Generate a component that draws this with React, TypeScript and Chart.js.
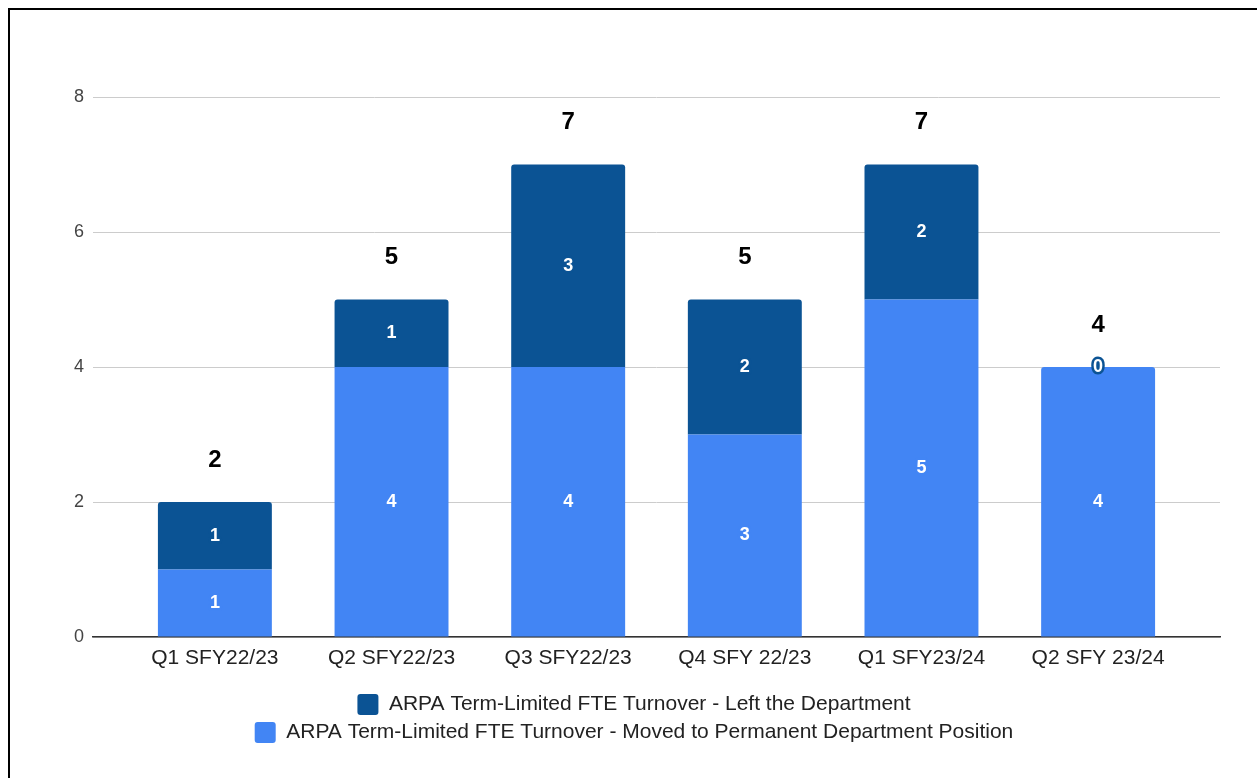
import React, { useEffect, useRef } from "react";
import { Chart, registerables } from "chart.js";

Chart.register(...registerables);

const categories = [
  "Q1 SFY22/23",
  "Q2 SFY22/23",
  "Q3 SFY22/23",
  "Q4 SFY 22/23",
  "Q1 SFY23/24",
  "Q2 SFY 23/24",
];
const movedToPermanent = [1, 4, 4, 3, 5, 4];
const leftDepartment = [1, 1, 3, 2, 2, 0];
const yTicks = [0, 2, 4, 6, 8];
const seriesMoved = "ARPA Term-Limited FTE Turnover - Moved to Permanent Department Position";
const seriesLeft = "ARPA Term-Limited FTE Turnover - Left the Department";

const FONT = "'Liberation Sans', Arial, Helvetica, sans-serif";
const LIGHT = "#4285f4";
const DARK = "#0b5394";

const labelPlugin = {
  id: "stackLabels",
  afterDatasetsDraw(chart: any) {
    const ctx = chart.ctx as CanvasRenderingContext2D;
    ctx.save();
    ctx.textAlign = "center";
    ctx.textBaseline = "middle";
    ctx.lineJoin = "round";
    ctx.font = `bold 18px ${FONT}`;
    const seriesValues = [movedToPermanent, leftDepartment];
    chart.data.datasets.forEach((ds: any, di: number) => {
      const meta = chart.getDatasetMeta(di);
      meta.data.forEach((el: any, i: number) => {
        const v = seriesValues[di][i];
        const p = el.getProps(["x", "y", "base"], true);
        const cy = (p.y + p.base) / 2;
        ctx.lineWidth = 5;
        ctx.strokeStyle = ds.backgroundColor;
        ctx.strokeText(String(v), p.x, cy);
        ctx.fillStyle = "#ffffff";
        ctx.fillText(String(v), p.x, cy);
      });
    });
    ctx.font = `bold 24px ${FONT}`;
    ctx.fillStyle = "#000000";
    const meta0 = chart.getDatasetMeta(0);
    categories.forEach((_, i) => {
      const total = movedToPermanent[i] + leftDepartment[i];
      const x = meta0.data[i].x;
      const y = chart.scales.y.getPixelForValue(total) - 42;
      ctx.fillText(String(total), x, y);
    });
    ctx.restore();
  },
};

export default function App() {
  const ref = useRef<HTMLCanvasElement>(null);

  useEffect(() => {
    if (!ref.current) return;
    const chart = new Chart(ref.current, {
      type: "bar",
      data: {
        datasets: [
          {
            label: seriesMoved,
            data: movedToPermanent.map((v, i) => ({ x: i, y: v })),
            backgroundColor: LIGHT,
            borderWidth: 0,
            borderRadius: (c: any) =>
              leftDepartment[c.dataIndex] === 0 ? { topLeft: 3, topRight: 3, bottomLeft: 0, bottomRight: 0 } : 0,
            borderSkipped: "start",
            categoryPercentage: 1,
            barPercentage: 0.645,
          },
          {
            label: seriesLeft,
            data: leftDepartment.map((v, i) => ({ x: i, y: v })),
            backgroundColor: DARK,
            borderWidth: 0,
            borderRadius: { topLeft: 3, topRight: 3, bottomLeft: 0, bottomRight: 0 },
            borderSkipped: "start",
            categoryPercentage: 1,
            barPercentage: 0.645,
          },
        ],
      },
      options: {
        responsive: false,
        animation: false,
        layout: { padding: { left: 38, right: 37, top: 87, bottom: 25 } },
        scales: {
          x: {
            type: "linear",
            stacked: true,
            offset: false,
            min: -0.69,
            max: 5.69,
            bounds: "data",
            afterBuildTicks: (s: any) => {
              s.ticks = categories.map((_, i) => ({ value: i }));
            },
            afterFit: (s: any) => {
              s.height = 50;
            },
            grid: { display: false, drawTicks: false, offset: false },
            border: { display: true, color: "#333333", width: 1.5 },
            ticks: {
              autoSkip: false,
              maxRotation: 0,
              minRotation: 0,
              padding: 9,
              color: "#222222",
              font: { family: FONT, size: 21 },
              callback: (v: any) => categories[Math.round(Number(v))] ?? "",
            },
          },
          y: {
            stacked: true,
            min: 0,
            max: 8,
            afterBuildTicks: (s: any) => {
              s.ticks = yTicks.map((v) => ({ value: v }));
            },
            afterFit: (s: any) => {
              s.width = 45;
            },
            grid: { color: "#cccccc", lineWidth: 1, drawTicks: false },
            border: { display: false },
            ticks: {
              padding: 9,
              color: "#444444",
              font: { family: FONT, size: 18 },
            },
          },
        },
        plugins: {
          legend: {
            position: "bottom",
            reverse: true,
            labels: {
              boxWidth: 21,
              boxHeight: 21,
              padding: 7,
              useBorderRadius: true,
              borderRadius: 3,
              color: "#222222",
              font: { family: FONT, size: 21 },
            },
          },
          tooltip: { enabled: false },
        },
      } as any,
      plugins: [labelPlugin],
    });
    return () => chart.destroy();
  }, []);

  return (
    <div
      style={{
        position: "absolute",
        left: 8,
        top: 8,
        width: 1249,
        height: 770,
        boxSizing: "border-box",
        borderTop: "2px solid #000",
        borderLeft: "2px solid #000",
        background: "#ffffff",
        overflow: "hidden",
      }}
    >
      <canvas ref={ref} width={1247} height={768} style={{ display: "block" }} />
    </div>
  );
}
